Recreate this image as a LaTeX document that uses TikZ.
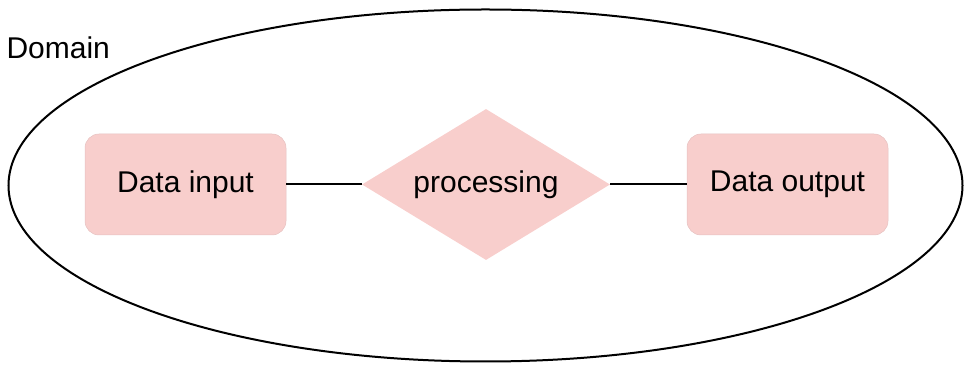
\documentclass[tikz,border=0pt]{standalone}
\usepackage{fontspec}
\setmainfont{Liberation Sans}
\usetikzlibrary{shapes.geometric}
\definecolor{boxfill}{HTML}{F8CECC}
\tikzset{
  labelfont/.style={font=\fontsize{30}{35}\selectfont},
  databox/.style={labelfont, fill=boxfill, draw=boxfill!85!gray, line width=0.5pt, rounded corners=14pt,
    minimum width=201pt, minimum height=101pt, inner sep=0pt},
  procbox/.style={labelfont, diamond, fill=boxfill, draw=none, minimum width=248pt, minimum height=151pt,
    inner sep=0pt, aspect=1.64},
  link/.style={line width=2pt, black},
}
\begin{document}
\begin{tikzpicture}[x=1pt, y=1pt]
  \useasboundingbox (0,0) rectangle (964,366);
  % surrounding domain
  \draw[line width=2pt] (485.5,180.5) ellipse [x radius=477, y radius=176];
  \node[anchor=west, labelfont] (domain) at (3,318) {Domain};
  % data flow
  \node[databox] (in) at (185.5,181.5) {Data input};
  \node[procbox] (proc) at (486,181.5) {processing};
  \node[databox] (out) at (787.5,181.5) {Data output};
  \draw[link] (in.east) -- (proc.west);
  \draw[link] (proc.east) -- (out.west);
\end{tikzpicture}
\end{document}
